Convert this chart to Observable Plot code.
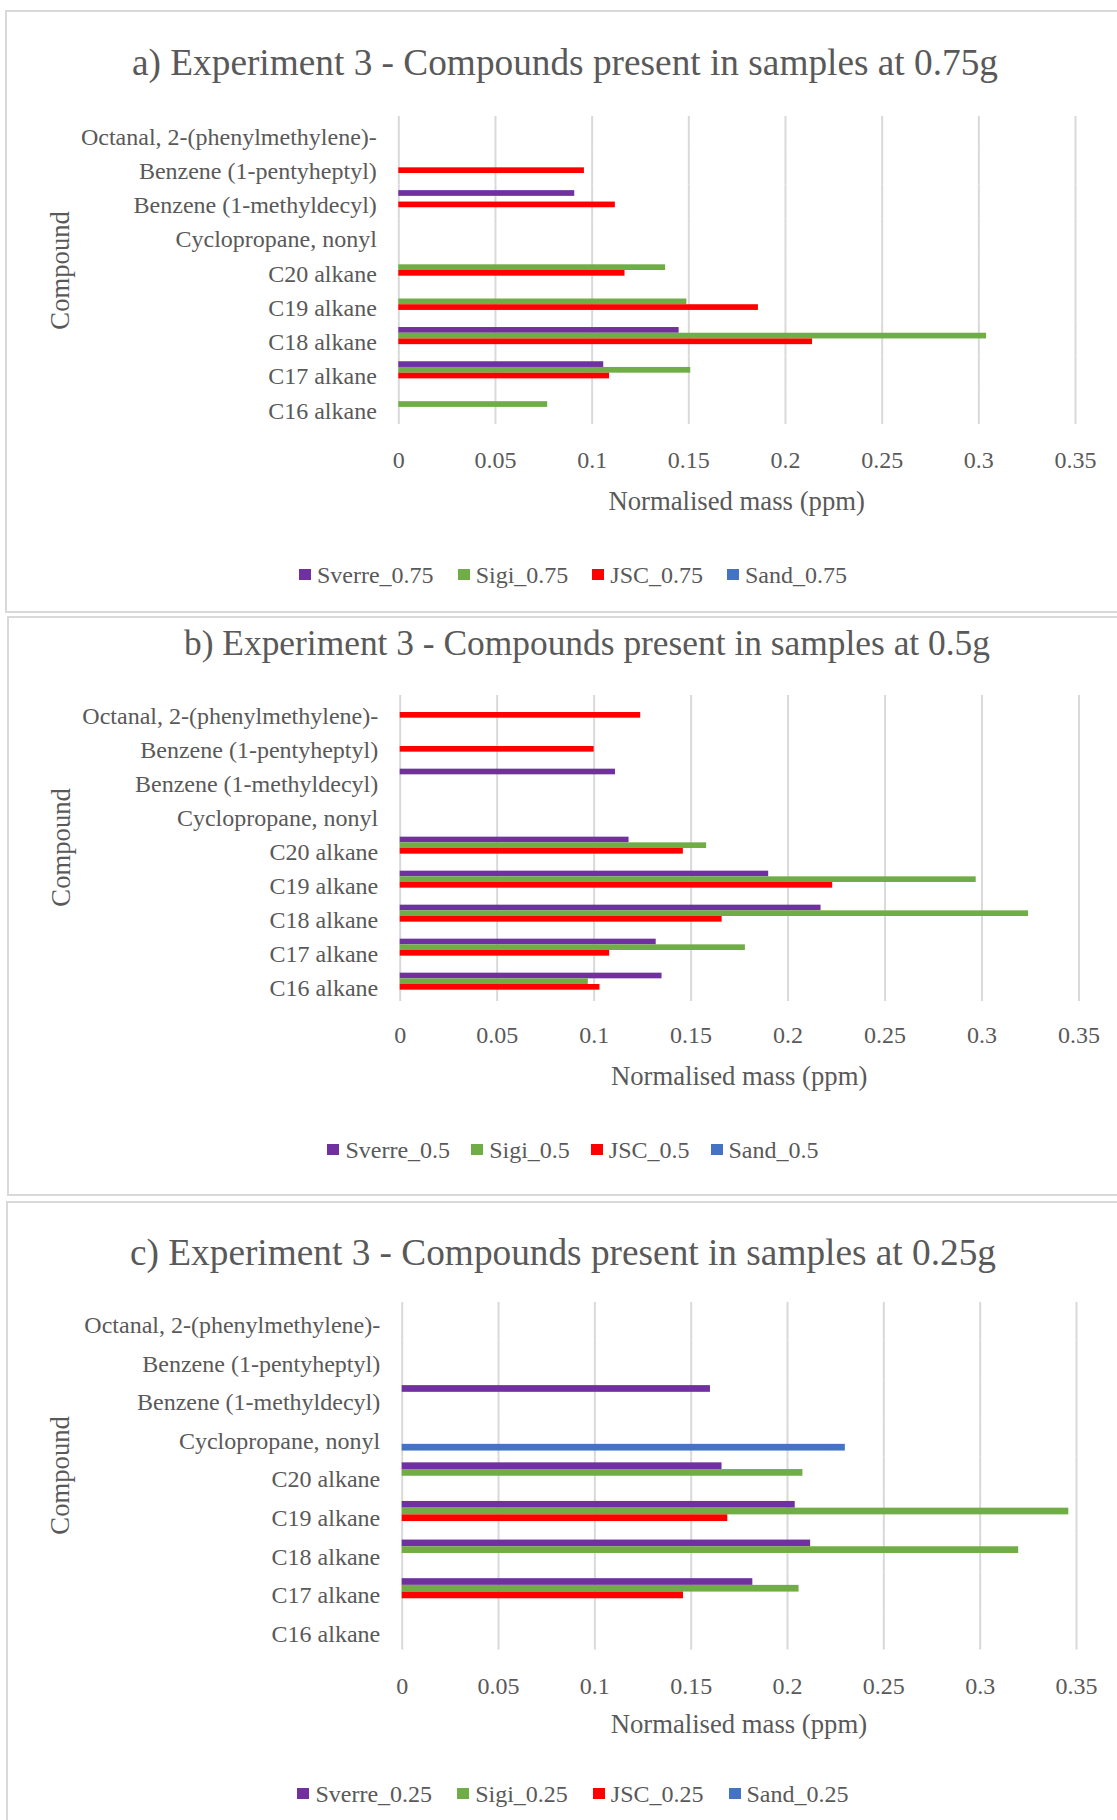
<!DOCTYPE html>
<html>
<head>
<meta charset="utf-8">
<script src="https://cdn.jsdelivr.net/npm/d3@7"></script>
<script src="https://cdn.jsdelivr.net/npm/@observablehq/plot@0.6"></script>
<style>
  html, body { margin: 0; padding: 0; background: #fff; }
  body { position: relative; width: 1117px; height: 1820px; overflow: hidden;
         font-family: "Liberation Serif", "Times New Roman", serif; color: #595959; }
  .abs { position: absolute; white-space: nowrap; }
  .box { position: absolute; border: 2px solid #d9d9d9; box-sizing: border-box; }
  .legend { position: absolute; display: flex; justify-content: center; align-items: center;
            font-size: 24px; line-height: 24px; }
  .legend .item { display: flex; align-items: center; }
  .legend .swatch { width: 12px; height: 11px; margin-right: 6px; }
</style>
</head>
<body>
<script>
// Compounds, top to bottom as listed on the vertical axis
const compounds = [
  "Octanal, 2-(phenylmethylene)-",
  "Benzene (1-pentyheptyl)",
  "Benzene (1-methyldecyl)",
  "Cyclopropane, nonyl",
  "C20 alkane",
  "C19 alkane",
  "C18 alkane",
  "C17 alkane",
  "C16 alkane"
];
const seriesNames = ["Sverre", "Sigi", "JSC", "Sand"];
const seriesColors = ["#7030A0", "#70AD47", "#FF0000", "#4472C4"];
const xTicks = [0, 0.05, 0.1, 0.15, 0.2, 0.25, 0.3, 0.35];

// Normalised mass (ppm) per compound, same order as `compounds`
// 0.75 g samples
const sverre075 = [0, 0, 0.091, 0, 0, 0, 0.145, 0.106, 0];
const sigi075   = [0, 0, 0, 0, 0.138, 0.149, 0.304, 0.151, 0.077];
const jsc075    = [0, 0.096, 0.112, 0, 0.117, 0.186, 0.214, 0.109, 0];
const sand075   = [0, 0, 0, 0, 0, 0, 0, 0, 0];
// 0.5 g samples
const sverre05 = [0, 0, 0.111, 0, 0.118, 0.190, 0.217, 0.132, 0.135];
const sigi05   = [0, 0, 0, 0, 0.158, 0.297, 0.324, 0.178, 0.097];
const jsc05    = [0.124, 0.100, 0, 0, 0.146, 0.223, 0.166, 0.108, 0.103];
const sand05   = [0, 0, 0, 0, 0, 0, 0, 0, 0];
// 0.25 g samples
const sverre025 = [0, 0, 0.160, 0, 0.166, 0.204, 0.212, 0.182, 0];
const sigi025   = [0, 0, 0, 0, 0.208, 0.346, 0.320, 0.206, 0];
const jsc025    = [0, 0, 0, 0, 0, 0.169, 0, 0.146, 0];
const sand025   = [0, 0, 0, 0.230, 0, 0, 0, 0, 0];

const panels = [
  {
    title: "a) Experiment 3 - Compounds present in samples at 0.75g",
    titleSize: 37.3,
    suffix: "_0.75",
    values: [sverre075, sigi075, jsc075, sand075],
    box: {left: 5, top: 10, height: 603},
    titleX: 565, titleBase: 75,
    plotTop: 116, plotBottom: 424, x0: 398.3, x1: 1075,
    outer: 1, tickPad: 26,
    compoundX: 60, xLabelBase: 510, legendBase: 583, legendGap: 24
  },
  {
    title: "b) Experiment 3 - Compounds present in samples at 0.5g",
    titleSize: 35.4,
    suffix: "_0.5",
    values: [sverre05, sigi05, jsc05, sand05],
    box: {left: 7, top: 616, height: 580},
    titleX: 587, titleBase: 655.5,
    plotTop: 694.5, plotBottom: 1000.5, x0: 399.7, x1: 1078.5,
    outer: 1, tickPad: 24,
    compoundX: 61, xLabelBase: 1085, legendBase: 1158, legendGap: 21
  },
  {
    title: "c) Experiment 3 - Compounds present in samples at 0.25g",
    titleSize: 37.3,
    suffix: "_0.25",
    values: [sverre025, sigi025, jsc025, sand025],
    box: {left: 6, top: 1201, height: 700},
    titleX: 563, titleBase: 1265,
    plotTop: 1302, plotBottom: 1649.5, x0: 401.7, x1: 1076,
    outer: 0.88, tickPad: 27,
    compoundX: 60, xLabelBase: 1733.5, legendBase: 1802, legendGap: 25
  }
];

const ASC = 0.8375; // baseline offset within a line-height:1 box for Liberation Serif

function addText(str, {cx, base, size}) {
  const d = document.createElement("div");
  d.className = "abs";
  d.textContent = str;
  d.style.fontSize = size + "px";
  d.style.lineHeight = size + "px";
  d.style.top = (base - ASC * size) + "px";
  d.style.left = (cx - 1000) + "px";
  d.style.width = "2000px";
  d.style.textAlign = "center";
  document.body.appendChild(d);
  return d;
}

function addRotated(str, {cx, cy, size}) {
  const d = document.createElement("div");
  d.className = "abs";
  d.textContent = str;
  d.style.fontSize = size + "px";
  d.style.lineHeight = size + "px";
  d.style.width = "400px";
  d.style.textAlign = "center";
  d.style.left = (cx - 200) + "px";
  d.style.top = (cy - size / 2) + "px";
  d.style.transform = "rotate(-90deg)";
  d.style.transformOrigin = "50% 50%";
  document.body.appendChild(d);
}

for (const p of panels) {
  // panel frame
  const box = document.createElement("div");
  box.className = "box";
  box.style.left = p.box.left + "px";
  box.style.top = p.box.top + "px";
  box.style.width = (1140 - p.box.left) + "px";
  box.style.height = p.box.height + "px";
  document.body.appendChild(box);

  // chart title
  addText(p.title, {cx: p.titleX, base: p.titleBase, size: p.titleSize});

  // long-format rows for the bars
  const rows = [];
  compounds.forEach((c, i) => {
    seriesNames.forEach((s, j) => rows.push({compound: c, series: s, value: p.values[j][i]}));
  });

  const plotH = p.plotBottom - p.plotTop;
  const mb = 60;
  const chart = Plot.plot({
    width: 1117,
    height: plotH + mb,
    marginTop: 0,
    marginBottom: mb,
    marginLeft: p.x0,
    marginRight: 1117 - p.x1,
    style: {
      fontFamily: "'Liberation Serif', 'Times New Roman', serif",
      fontSize: "24px",
      color: "#595959",
      background: "transparent",
      overflow: "visible"
    },
    facet: {data: rows, y: "compound"},
    fy: {domain: compounds, padding: 0, round: false, axis: "left", label: null, tickSize: 0, tickPadding: 22},
    y: {domain: seriesNames, paddingInner: 0, paddingOuter: p.outer, round: false, axis: null},
    x: {domain: [0, 0.35], ticks: xTicks, tickFormat: d => String(d), tickSize: 0, tickPadding: p.tickPad, label: null},
    color: {domain: seriesNames, range: seriesColors},
    marks: [
      Plot.ruleX(xTicks, {stroke: "#d9d9d9", strokeWidth: 2}),
      Plot.barX(rows, {x: "value", y: "series", fill: "series"})
    ]
  });

  // compound labels sit slightly below the band centre
  chart.querySelectorAll('g[aria-label^="fy-axis"] text').forEach(t => {
    t.setAttribute("transform", ((t.getAttribute("transform") || "") + " translate(0,3.5)").trim());
  });

  const holder = document.createElement("div");
  holder.className = "abs";
  holder.style.left = "0px";
  holder.style.top = p.plotTop + "px";
  holder.appendChild(chart);
  document.body.appendChild(holder);

  // axis titles
  addText("Normalised mass (ppm)", {cx: (p.x0 + p.x1) / 2, base: p.xLabelBase, size: 26.7});
  addRotated("Compound", {cx: p.compoundX, cy: (p.plotTop + p.plotBottom) / 2, size: 26.7});

  // legend
  const leg = document.createElement("div");
  leg.className = "legend";
  leg.style.left = "0px";
  leg.style.width = "1146px";
  leg.style.gap = p.legendGap + "px";
  leg.style.top = (p.legendBase - ASC * 24) + "px";
  seriesNames.forEach((s, j) => {
    const item = document.createElement("div");
    item.className = "item";
    const sw = document.createElement("span");
    sw.className = "swatch";
    sw.style.background = seriesColors[j];
    const lab = document.createElement("span");
    lab.textContent = s + p.suffix;
    item.appendChild(sw);
    item.appendChild(lab);
    leg.appendChild(item);
  });
  document.body.appendChild(leg);
}
</script>
</body>
</html>
